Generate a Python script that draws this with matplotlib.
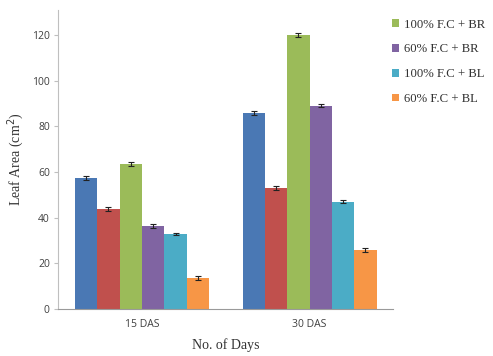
import numpy as np
import matplotlib.pyplot as plt
from matplotlib.patches import Patch

# Leaf area data
days = ['15 DAS', '30 DAS']
series_names = ['', '', '100% F.C + BR', '60% F.C + BR', '100% F.C + BL', '60% F.C + BL']
values = [
    [57.5, 86.0],
    [44.0, 53.0],
    [63.5, 120.0],
    [36.5, 89.0],
    [33.0, 47.0],
    [13.5, 26.0],
]
errors = [
    [0.8, 0.8],
    [0.9, 0.8],
    [0.8, 0.8],
    [0.8, 0.7],
    [0.5, 0.7],
    [0.9, 0.9],
]
colors = ['#4A78B4', '#C0504D', '#9BBB59', '#8064A2', '#4BACC6', '#F79646']

fig = plt.figure(figsize=(4.93, 3.56), dpi=100)
ax = fig.add_axes([0.118, 0.132, 0.68, 0.84])

x = np.arange(len(days))
n = len(values)
w = 0.8 / n
for i in range(n):
    pos = x - 0.4 + w * (i + 0.5)
    ax.bar(pos, values[i], width=w, color=colors[i], edgecolor='none', zorder=2)
    ax.errorbar(pos, values[i], yerr=errors[i], fmt='none', ecolor='#222222',
                elinewidth=0.8, capsize=2, capthick=0.8, zorder=3)

ax.set_xlim(-0.5, 1.5)
ax.set_ylim(0, 131)
ax.set_yticks(np.arange(0, 121, 20))
ax.set_xticks(x)
ax.set_xticklabels(days)
tick_font = 'Open Sans'
for lab in ax.get_xticklabels() + ax.get_yticklabels():
    lab.set_family(tick_font)
    lab.set_fontsize(7.5)
    lab.set_color('#404040')
ax.tick_params(axis='x', length=0, pad=7)
ax.tick_params(axis='y', length=3, color='#BFBFBF', pad=3)

for s in ['top', 'right']:
    ax.spines[s].set_visible(False)
ax.spines['left'].set_color('#BFBFBF')
ax.spines['bottom'].set_color('#9A9A9A')

ax.set_ylabel('Leaf Area (cm$^2$)', family='Liberation Serif', fontsize=10, color='#333333')
ax.set_xlabel('No. of Days', family='Liberation Serif', fontsize=10, color='#333333', labelpad=6)

# Only the last four series appear in the legend
handles = [Patch(facecolor=colors[i], label=series_names[i]) for i in range(2, n)]
leg = fig.legend(handles=handles, loc='upper left', bbox_to_anchor=(0.772, 0.98),
                 frameon=False, prop={'family': 'Liberation Serif', 'size': 9.2},
                 handlelength=0.55, handleheight=0.55, handletextpad=0.4, labelspacing=1.0)
for t in leg.get_texts():
    t.set_color('#333333')

fig.savefig('out.png', dpi=100)
